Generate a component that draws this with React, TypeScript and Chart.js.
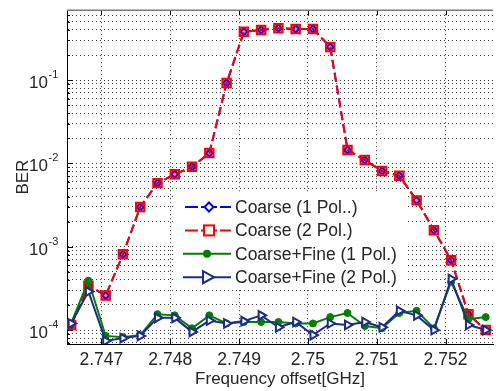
import React, { useEffect, useRef } from 'react';
import { Chart, registerables } from 'chart.js';

Chart.register(...registerables);

// ---- data ----
const FREQ_GHZ = [
  2.74656, 2.746811, 2.747062, 2.747313, 2.747564, 2.747815, 2.748066, 2.748317,
  2.748568, 2.748819, 2.74907, 2.749321, 2.749572, 2.749823, 2.750074, 2.750325,
  2.750576, 2.750827, 2.751078, 2.751329, 2.75158, 2.751831, 2.752082, 2.752333, 2.752584,
];

const COARSE_1POL = [
  1.15e-4, 3.4e-4, 2.6e-4, 8.1e-4, 3.0e-3, 5.8e-3, 7.4e-3, 9.1e-3, 1.33e-2, 9.2e-2,
  0.38, 0.40, 0.42, 0.41, 0.41, 0.25, 1.45e-2, 1.1e-2, 8.1e-3, 7.1e-3, 3.6e-3, 1.58e-3,
  6.9e-4, 1.55e-4, 1.0e-4,
];

const COARSE_2POL = [
  1.15e-4, 3.4e-4, 2.6e-4, 8.1e-4, 3.0e-3, 5.8e-3, 7.4e-3, 9.1e-3, 1.33e-2, 9.2e-2,
  0.38, 0.40, 0.42, 0.41, 0.41, 0.25, 1.45e-2, 1.1e-2, 8.1e-3, 7.1e-3, 3.6e-3, 1.58e-3,
  6.9e-4, 1.55e-4, 1.0e-4,
];

const COARSE_FINE_1POL = [
  1.2e-4, 3.9e-4, 8.5e-5, 8.2e-5, 8.7e-5, 1.55e-4, 1.5e-4, 1.05e-4, 1.5e-4, 1.2e-4,
  1.25e-4, 1.25e-4, 1.25e-4, 1.2e-4, 1.2e-4, 1.43e-4, 1.6e-4, 1.12e-4, 1.05e-4, 1.6e-4,
  1.7e-4, 1.05e-4, 3.8e-4, 1.35e-4, 1.43e-4,
];

const COARSE_FINE_2POL = [
  1.2e-4, 2.9e-4, 7.4e-5, 8.0e-5, 8.5e-5, 1.4e-4, 1.4e-4, 9.5e-5, 1.3e-4, 1.2e-4,
  1.28e-4, 1.5e-4, 1.08e-4, 1.25e-4, 8.7e-5, 1.2e-4, 1.15e-4, 1.25e-4, 1.08e-4, 1.7e-4,
  1.5e-4, 1.0e-4, 4.1e-4, 1.15e-4, 1.0e-4,
];

const SERIES_NAMES = [
  'Coarse (1 Pol..)',
  'Coarse (2 Pol.)',
  'Coarse+Fine (1 Pol.)',
  'Coarse+Fine (2 Pol.)',
];

const X_TICKS = [2.747, 2.748, 2.749, 2.75, 2.751, 2.752];
const X_TICK_LABELS = ['2.747', '2.748', '2.749', '2.75', '2.751', '2.752'];
const Y_MAJOR = [1e-4, 1e-3, 1e-2, 1e-1];
const Y_MAJOR_EXPONENTS = ['-4', '-3', '-2', '-1'];
const Y_DECADES = [-5, -4, -3, -2, -1];
const Y_MANTISSAS = [1, 2, 3, 4, 5, 6, 7, 8, 9];

const X_MIN = 2.7465;
const X_MAX = 2.75269;
const Y_MIN = 6.8e-5;
const Y_MAX = 0.69;

const X_TITLE = 'Frequency offset[GHz]';
const Y_TITLE = 'BER';

// ---- styles ----
const FONT_FAMILY = '"Liberation Sans", Arial, sans-serif';
const TEXT_COLOR = '#262626';
const BLUE = '#0000ff';
const RED = '#ff0000';
const GREEN = '#008000';
const NAVY = '#1c2b8c';

const Y_GRID: number[] = [];
Y_DECADES.forEach((e) => {
  Y_MANTISSAS.forEach((m) => {
    const v = parseFloat((m * Math.pow(10, e)).toPrecision(3));
    if (v > Y_MIN && v < Y_MAX) Y_GRID.push(v);
  });
});

const toPoints = (ys: number[]) => FREQ_GHZ.map((x, i) => ({ x, y: ys[i] }));

function drawMarker(ctx: CanvasRenderingContext2D, kind: string, x: number, y: number) {
  ctx.save();
  ctx.setLineDash([]);
  if (kind === 'diamond') {
    ctx.beginPath();
    ctx.moveTo(x, y - 4.5);
    ctx.lineTo(x + 4.5, y);
    ctx.lineTo(x, y + 4.5);
    ctx.lineTo(x - 4.5, y);
    ctx.closePath();
    ctx.fillStyle = '#ffffff';
    ctx.fill();
    ctx.lineWidth = 2;
    ctx.strokeStyle = BLUE;
    ctx.stroke();
  } else if (kind === 'square') {
    ctx.lineWidth = 2;
    ctx.strokeStyle = RED;
    ctx.fillStyle = '#ffffff';
    ctx.fillRect(x - 5, y - 5, 10, 10);
    ctx.strokeRect(x - 5, y - 5, 10, 10);
  } else if (kind === 'circle') {
    ctx.beginPath();
    ctx.arc(x, y, 4, 0, Math.PI * 2);
    ctx.fillStyle = GREEN;
    ctx.fill();
  } else if (kind === 'triangle') {
    ctx.beginPath();
    ctx.moveTo(x + 7, y);
    ctx.lineTo(x - 4, y - 6);
    ctx.lineTo(x - 4, y + 6);
    ctx.closePath();
    ctx.fillStyle = '#ffffff';
    ctx.fill();
    ctx.lineWidth = 2;
    ctx.strokeStyle = NAVY;
    ctx.stroke();
  }
  ctx.restore();
}

const LEGEND_ROWS = [
  { color: BLUE, dashed: true, marker: 'diamond' },
  { color: RED, dashed: true, marker: 'square' },
  { color: GREEN, dashed: false, marker: 'circle' },
  { color: NAVY, dashed: false, marker: 'triangle' },
];

const decorPlugin = {
  id: 'decor',
  beforeDatasetsDraw(chart: any) {
    const { ctx, chartArea } = chart;
    const xs = chart.scales.x;
    const ys = chart.scales.y;
    ctx.save();
    ctx.strokeStyle = '#000000';
    ctx.lineWidth = 1;
    ctx.setLineDash([]);
    X_TICKS.forEach((v) => {
      const px = Math.round(xs.getPixelForValue(v)) + 0.5;
      ctx.beginPath();
      ctx.moveTo(px, chartArea.bottom);
      ctx.lineTo(px, chartArea.bottom - 5);
      ctx.moveTo(px, chartArea.top);
      ctx.lineTo(px, chartArea.top + 5);
      ctx.stroke();
    });
    Y_GRID.forEach((v) => {
      const py = Math.round(ys.getPixelForValue(v)) + 0.5;
      const major = Y_MAJOR.some((m) => Math.abs(m - v) / m < 1e-6);
      ctx.beginPath();
      ctx.moveTo(chartArea.left, py);
      ctx.lineTo(chartArea.left + (major ? 6 : 3), py);
      ctx.stroke();
    });
    ctx.strokeStyle = '#7a7a7a';
    ctx.lineWidth = 1.5;
    ctx.beginPath();
    ctx.moveTo(chartArea.left, chartArea.top);
    ctx.lineTo(chartArea.right, chartArea.top);
    ctx.stroke();
    ctx.restore();
  },
  afterDraw(chart: any) {
    const { ctx } = chart;
    const ys = chart.scales.y;
    ctx.save();
    ctx.fillStyle = TEXT_COLOR;
    Y_MAJOR.forEach((v, i) => {
      const py = ys.getPixelForValue(v);
      ctx.textBaseline = 'alphabetic';
      ctx.textAlign = 'right';
      ctx.font = `17px ${FONT_FAMILY}`;
      ctx.fillText('10', 48, py + 8);
      ctx.textAlign = 'left';
      ctx.font = `11px ${FONT_FAMILY}`;
      ctx.fillText(Y_MAJOR_EXPONENTS[i], 48.5, py - 2);
    });

    const boxX = 174;
    const boxY = 193;
    ctx.fillStyle = '#ffffff';
    ctx.fillRect(boxX, boxY, 232, 97);
    LEGEND_ROWS.forEach((row, i) => {
      const y = 207 + i * 23.4;
      ctx.strokeStyle = row.color;
      ctx.lineWidth = 2;
      ctx.setLineDash([]);
      ctx.beginPath();
      if (row.dashed) {
        ctx.moveTo(185, y);
        ctx.lineTo(198, y);
        ctx.moveTo(201, y);
        ctx.lineTo(217, y);
        ctx.moveTo(220, y);
        ctx.lineTo(231, y);
      } else {
        ctx.moveTo(183, y);
        ctx.lineTo(231, y);
      }
      ctx.stroke();
      drawMarker(ctx, row.marker, row.marker === 'triangle' || row.marker === 'circle' ? 207 : 209, y);
      ctx.fillStyle = TEXT_COLOR;
      ctx.font = `17.5px ${FONT_FAMILY}`;
      ctx.textAlign = 'left';
      ctx.textBaseline = 'middle';
      ctx.fillText(SERIES_NAMES[i], 235, y + 1);
    });
    ctx.restore();
  },
};

export default function App() {
  const canvasRef = useRef<HTMLCanvasElement | null>(null);

  useEffect(() => {
    const canvas = canvasRef.current;
    if (!canvas) return;
    const chart = new Chart(canvas, {
      type: 'line',
      data: {
        datasets: [
          {
            label: SERIES_NAMES[0],
            data: toPoints(COARSE_1POL),
            borderColor: BLUE,
            borderWidth: 2,
            borderDash: [9, 4],
            pointStyle: 'rectRot',
            pointRadius: 3.5,
            pointBorderWidth: 2,
            pointBorderColor: BLUE,
            pointBackgroundColor: '#ffffff',
            order: 3,
          },
          {
            label: SERIES_NAMES[1],
            data: toPoints(COARSE_2POL),
            borderColor: RED,
            borderWidth: 2,
            borderDash: [9, 4],
            pointStyle: 'rect',
            pointRadius: 6,
            pointBorderWidth: 2,
            pointBorderColor: RED,
            pointBackgroundColor: 'rgba(110,0,130,0.45)',
            order: 2,
          },
          {
            label: SERIES_NAMES[2],
            data: toPoints(COARSE_FINE_1POL),
            borderColor: GREEN,
            borderWidth: 2,
            pointStyle: 'circle',
            pointRadius: 3.5,
            pointBorderWidth: 1,
            pointBorderColor: GREEN,
            pointBackgroundColor: GREEN,
            order: 1,
          },
          {
            label: SERIES_NAMES[3],
            data: toPoints(COARSE_FINE_2POL),
            borderColor: NAVY,
            borderWidth: 2,
            pointStyle: 'triangle',
            pointRotation: 90,
            pointRadius: 5,
            pointBorderWidth: 2,
            pointBorderColor: NAVY,
            pointBackgroundColor: '#ffffff',
            order: 0,
          },
        ],
      },
      options: {
        animation: false,
        responsive: false,
        maintainAspectRatio: false,
        layout: { padding: { top: 10, left: 0, right: 0, bottom: 0 } },
        plugins: {
          legend: { display: false },
          tooltip: { enabled: false },
        },
        scales: {
          x: {
            type: 'linear',
            min: X_MIN,
            max: X_MAX,
            afterBuildTicks: (scale: any) => {
              scale.ticks = X_TICKS.map((v) => ({ value: v }));
            },
            afterFit: (scale: any) => {
              scale.height = 47;
            },
            ticks: {
              callback: (v: any) => {
                const i = X_TICKS.findIndex((t) => Math.abs(t - Number(v)) < 1e-9);
                return i >= 0 ? X_TICK_LABELS[i] : '';
              },
              maxRotation: 0,
              autoSkip: false,
              padding: 6,
              color: TEXT_COLOR,
              font: { family: FONT_FAMILY, size: 17.5 },
            },
            grid: { color: '#3a3a3a', lineWidth: 1, drawTicks: false },
            border: { display: true, color: '#000000', width: 1, dash: [1, 3] },
            title: {
              display: true,
              text: X_TITLE,
              color: TEXT_COLOR,
              font: { family: FONT_FAMILY, size: 17 },
              padding: { top: 0, bottom: 1 },
            },
          },
          y: {
            type: 'logarithmic',
            min: Y_MIN,
            max: Y_MAX,
            afterBuildTicks: (scale: any) => {
              scale.ticks = Y_GRID.map((v) => ({ value: v }));
            },
            afterFit: (scale: any) => {
              scale.width = 67;
            },
            ticks: {
              callback: () => '',
              autoSkip: false,
              padding: 0,
              font: { family: FONT_FAMILY, size: 17 },
            },
            grid: { color: '#3a3a3a', lineWidth: 1, drawTicks: false },
            border: { display: true, color: '#000000', width: 1, dash: [1, 3] },
            title: {
              display: true,
              text: Y_TITLE,
              color: TEXT_COLOR,
              font: { family: FONT_FAMILY, size: 17 },
              padding: { top: 13, bottom: 0 },
            },
          },
        },
      } as any,
      plugins: [decorPlugin],
    });
    return () => chart.destroy();
  }, []);

  return (
    <div style={{ position: 'absolute', left: 0, top: 0, width: 501, height: 391, background: '#ffffff' }}>
      <canvas ref={canvasRef} width={501} height={391} style={{ display: 'block', width: 501, height: 391 }} />
    </div>
  );
}
